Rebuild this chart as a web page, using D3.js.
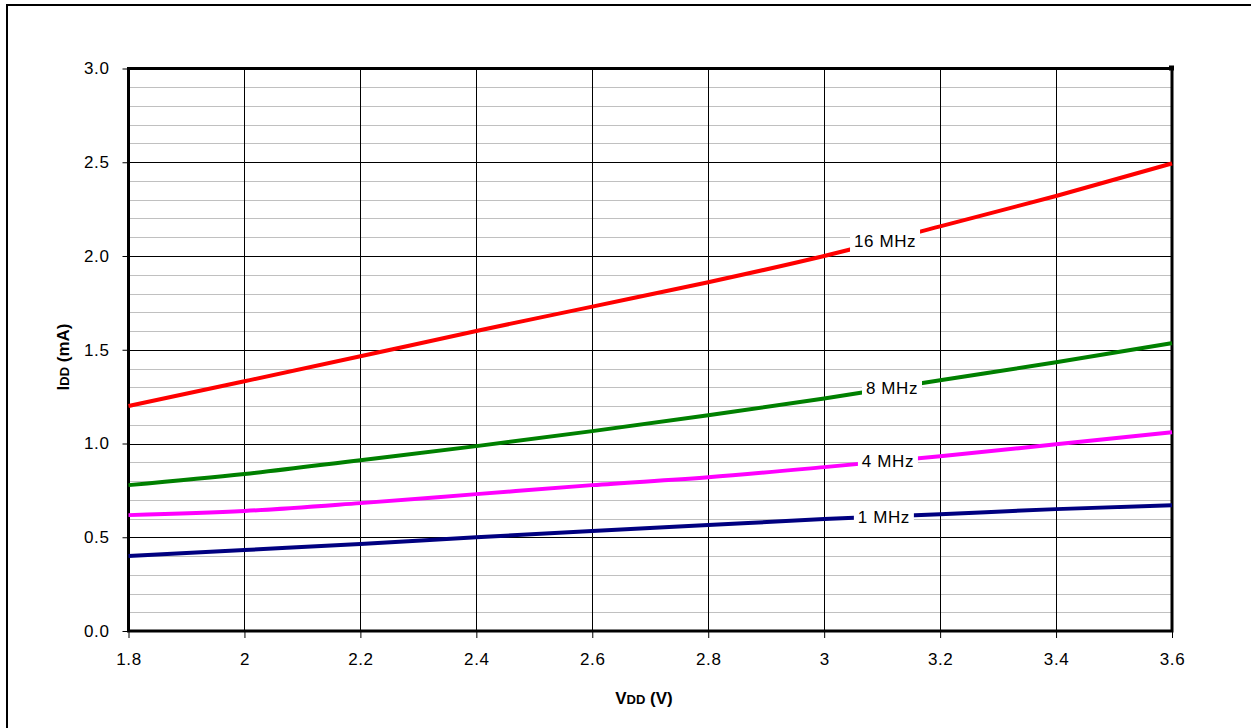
<!DOCTYPE html>
<html>
<head>
<meta charset="utf-8">
<script src="https://cdn.jsdelivr.net/npm/d3@7"></script>
<style>
  body { margin: 0; background: #fff; }
  svg { display: block; font-family: "Liberation Sans", Arial, sans-serif; }
</style>
</head>
<body>
<svg id="chart" width="1251" height="728"></svg>
<script>
var vdd = [1.8, 2.0, 2.2, 2.4, 2.6, 2.8, 3.0, 3.2, 3.4, 3.6]
var idd16 = [1.20, 1.332, 1.465, 1.60, 1.73, 1.86, 2.00, 2.158, 2.32, 2.494]
var idd8 = [0.778, 0.837, 0.911, 0.986, 1.066, 1.151, 1.24, 1.337, 1.433, 1.535]
var idd4 = [0.618, 0.64, 0.682, 0.73, 0.778, 0.82, 0.874, 0.932, 0.996, 1.06]
var idd1 = [0.40, 0.432, 0.464, 0.50, 0.533, 0.565, 0.597, 0.623, 0.65, 0.671]
var seriesNames = ['16 MHz', '8 MHz', '4 MHz', '1 MHz']
var seriesColors = ['#ff0000', '#008000', '#ff00ff', '#000080']
// where each inline label sits (x value along the curve)
var labelAt = [3.105, 3.117, 3.11, 3.103]
var xTicks = [1.8, 2, 2.2, 2.4, 2.6, 2.8, 3, 3.2, 3.4, 3.6]
var yTicks = [0, 0.5, 1.0, 1.5, 2.0, 2.5, 3.0]

;(function (d3) {
  var series = [idd16, idd8, idd4, idd1]

  var svg = d3.select('#chart')
  var pl = 128.5, pr = 1172, pt = 68.5, pb = 631

  var x = d3.scaleLinear().domain([1.8, 3.6]).range([pl, pr])
  var y = d3.scaleLinear().domain([0, 3]).range([pb, pt])

  // outer frame
  svg.append('rect')
    .attr('x', 7).attr('y', 5).attr('width', 1260).attr('height', 740)
    .attr('fill', 'none').attr('stroke', '#000').attr('stroke-width', 2)

  // minor horizontal grid
  svg.append('g').selectAll('line')
    .data(d3.range(1, 30).filter(function (i) { return i % 5 !== 0 }))
    .enter().append('line')
    .attr('x1', pl).attr('x2', pr)
    .attr('y1', function (d) { return Math.round(y(d / 10)) + 0.5 })
    .attr('y2', function (d) { return Math.round(y(d / 10)) + 0.5 })
    .attr('stroke', '#c0c0c0').attr('stroke-width', 1)

  // major horizontal grid
  svg.append('g').selectAll('line')
    .data(yTicks.slice(1, -1))
    .enter().append('line')
    .attr('x1', pl).attr('x2', pr)
    .attr('y1', function (d) { return Math.round(y(d)) + 0.5 })
    .attr('y2', function (d) { return Math.round(y(d)) + 0.5 })
    .attr('stroke', '#000').attr('stroke-width', 1)

  // vertical grid
  svg.append('g').selectAll('line')
    .data(xTicks.slice(1, -1))
    .enter().append('line')
    .attr('x1', function (d) { return Math.round(x(d)) + 0.5 })
    .attr('x2', function (d) { return Math.round(x(d)) + 0.5 })
    .attr('y1', pt).attr('y2', pb)
    .attr('stroke', '#000').attr('stroke-width', 1)

  // axes
  var xAxis = svg.append('g')
    .attr('transform', 'translate(0,' + pb + ')')
    .call(d3.axisBottom(x).tickValues(xTicks).tickFormat(d3.format('')).tickSize(7).tickPadding(15))
  var yAxis = svg.append('g')
    .attr('transform', 'translate(' + pl + ',0)')
    .call(d3.axisLeft(y).tickValues(yTicks).tickFormat(d3.format('.1f')).tickSize(6).tickPadding(13))
  ;[xAxis, yAxis].forEach(function (g) {
    g.select('.domain').remove()
    g.attr('font-size', 17).attr('font-family', '"Liberation Sans", Arial, sans-serif')
    g.selectAll('line').attr('stroke', '#000')
    g.selectAll('text').attr('fill', '#000').attr('letter-spacing', 0.6)
  })

  // plot border
  svg.append('rect')
    .attr('x', pl).attr('y', pt).attr('width', pr - pl).attr('height', pb - pt)
    .attr('fill', 'none').attr('stroke', '#000').attr('stroke-width', 3)
  svg.append('rect')
    .attr('x', pr - 3).attr('y', pt - 3).attr('width', 5).attr('height', 5).attr('fill', '#000')

  // curves
  var line = d3.line()
    .x(function (d, i) { return x(vdd[i]) })
    .y(function (d) { return y(d) })
    .curve(d3.curveMonotoneX)

  svg.append('g').selectAll('path')
    .data(series)
    .enter().append('path')
    .attr('d', line)
    .attr('fill', 'none')
    .attr('stroke', function (d, i) { return seriesColors[i] })
    .attr('stroke-width', 4)

  // inline labels with white boxes
  var labels = svg.append('g').selectAll('g')
    .data(series)
    .enter().append('g')
    .attr('transform', function (d, i) {
      var xv = labelAt[i]
      var yv = d3.scaleLinear().domain(vdd).range(d)(xv)
      return 'translate(' + x(xv) + ',' + y(yv) + ')'
    })
  labels.append('rect')
    .attr('x', function (d, i) { return i === 0 ? -35 : -30 })
    .attr('y', -12)
    .attr('width', function (d, i) { return i === 0 ? 70 : 60 })
    .attr('height', 24)
    .attr('fill', '#fff')
  labels.append('text')
    .attr('text-anchor', 'middle')
    .attr('dy', '0.36em')
    .attr('font-size', 17)
    .attr('letter-spacing', 0.6)
    .attr('fill', '#000')
    .text(function (d, i) { return seriesNames[i] })

  // axis titles
  var xt = svg.append('text')
    .attr('x', 644).attr('y', 704)
    .attr('text-anchor', 'middle')
    .attr('font-size', 17).attr('font-weight', 'bold')
  xt.append('tspan').text('V')
  xt.append('tspan').attr('font-size', 13).text('DD')
  xt.append('tspan').text(' (V)')

  var yt = svg.append('text')
    .attr('transform', 'translate(69,357) rotate(-90)')
    .attr('text-anchor', 'middle')
    .attr('font-size', 17).attr('font-weight', 'bold')
  yt.append('tspan').text('I')
  yt.append('tspan').attr('font-size', 13).text('DD')
  yt.append('tspan').text(' (mA)')
})(window.d3)
</script>
</body>
</html>
